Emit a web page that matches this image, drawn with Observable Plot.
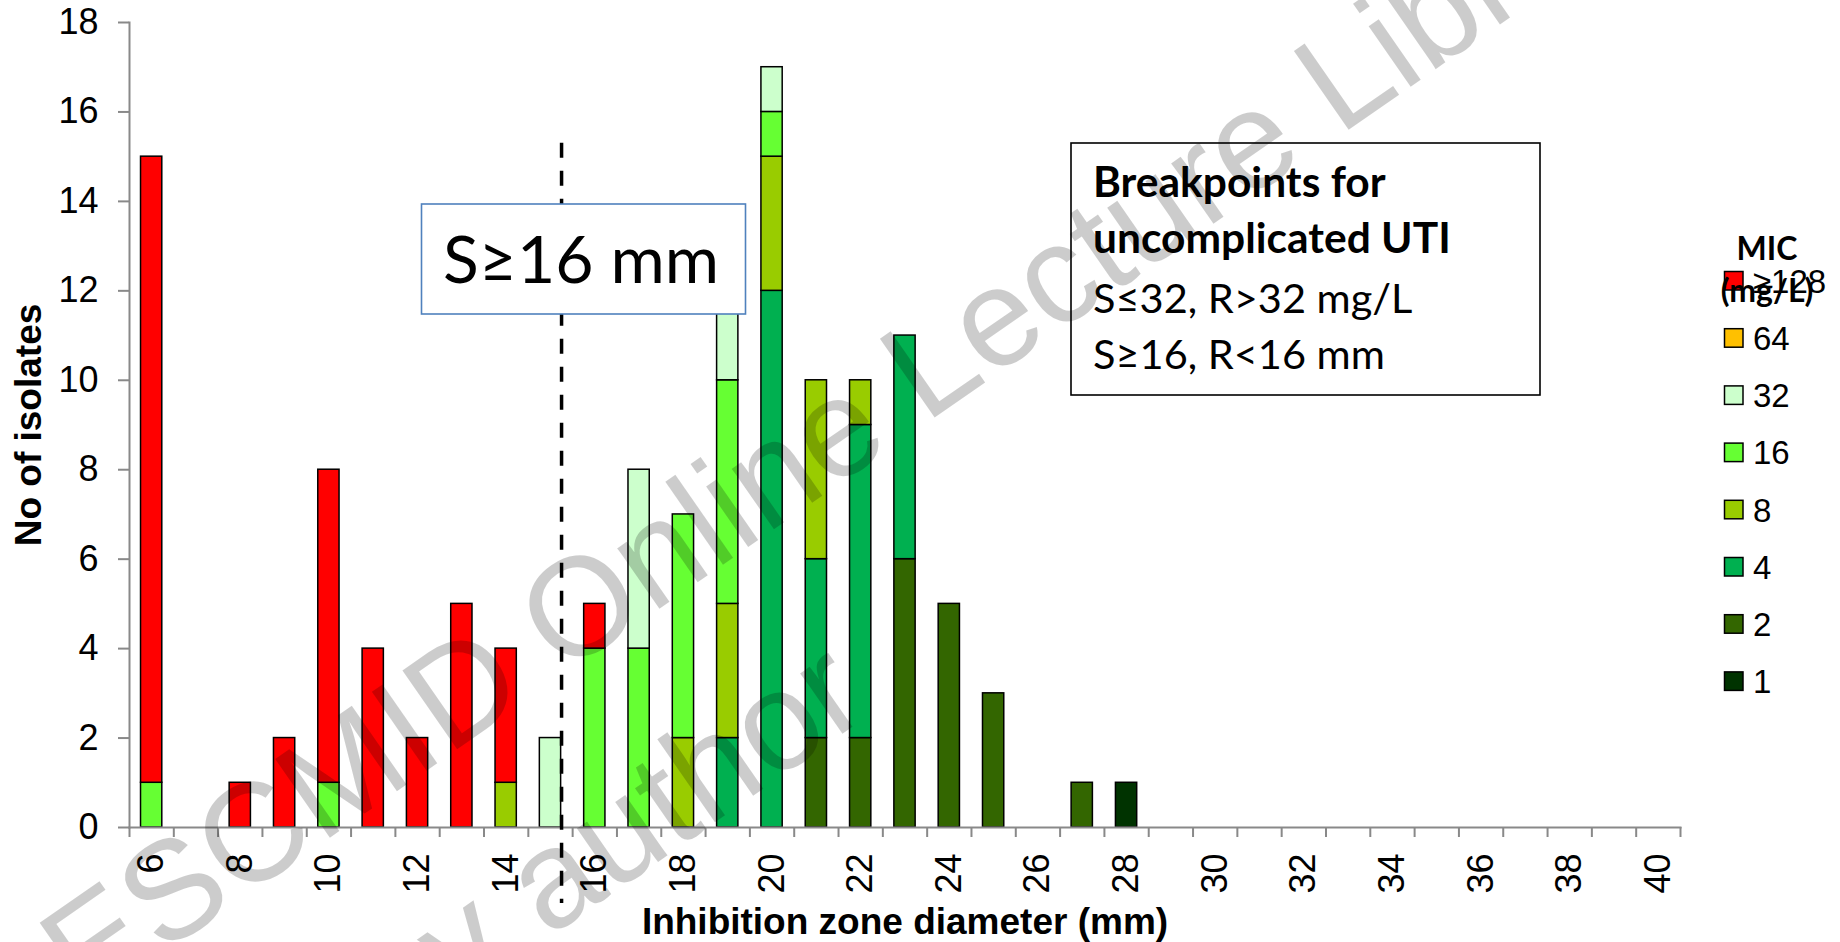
<!DOCTYPE html>
<html><head><meta charset="utf-8">
<script src="https://cdn.jsdelivr.net/npm/d3@7"></script>
<script src="https://cdn.jsdelivr.net/npm/@observablehq/plot@0.6"></script>
<style>
html,body{margin:0;padding:0;background:#fff;}
#chart{position:relative;width:1840px;height:942px;overflow:hidden;background:#fff;}
#chart svg{position:absolute;left:0;top:0;}
</style></head><body><div id="chart"></div>
<script>
// Inhibition zone diameter categories (mm)
const zones = [6,7,8,9,10,11,12,13,14,15,16,17,18,19,20,21,22,23,24,25,26,27,28,29,30,31,32,33,34,35,36,37,38,39,40];
// MIC classes (stacking order, bottom to top) and their colours
const micLevels = ["1","2","4","8","16","32","64","≥128"];
const micColors = ["#003300","#336600","#00B050","#99CC00","#66FF33","#CCFFCC","#FFC000","#FF0000"];
// Number of isolates per zone diameter, one array per MIC class
const mic1   = [0,0,0,0,0,0,0,0,0,0,0,0,0,0,0,0,0,0,0,0,0,0,1,0,0,0,0,0,0,0,0,0,0,0,0];
const mic2   = [0,0,0,0,0,0,0,0,0,0,0,0,0,0,0,2,2,6,5,3,0,1,0,0,0,0,0,0,0,0,0,0,0,0,0];
const mic4   = [0,0,0,0,0,0,0,0,0,0,0,0,0,2,12,4,7,5,0,0,0,0,0,0,0,0,0,0,0,0,0,0,0,0,0];
const mic8   = [0,0,0,0,0,0,0,0,1,0,0,0,2,3,3,4,1,0,0,0,0,0,0,0,0,0,0,0,0,0,0,0,0,0,0];
const mic16  = [1,0,0,0,1,0,0,0,0,0,4,4,5,5,1,0,0,0,0,0,0,0,0,0,0,0,0,0,0,0,0,0,0,0,0];
const mic32  = [0,0,0,0,0,0,0,0,0,2,0,4,0,2,1,0,0,0,0,0,0,0,0,0,0,0,0,0,0,0,0,0,0,0,0];
const mic64  = [0,0,0,0,0,0,0,0,0,0,0,0,0,0,0,0,0,0,0,0,0,0,0,0,0,0,0,0,0,0,0,0,0,0,0];
const mic128 = [14,0,1,2,7,4,2,5,3,0,1,0,0,0,0,0,0,0,0,0,0,0,0,0,0,0,0,0,0,0,0,0,0,0,0];
// Axis ticks and labels
const xLabels = [6,8,10,12,14,16,18,20,22,24,26,28,30,32,34,36,38,40];
const yTicks = [0,2,4,6,8,10,12,14,16,18];
const xTitle = "Inhibition zone diameter (mm)";
const yTitle = "No of isolates";
const dashedAt = 15.25;          // breakpoint line (R<16 | S≥16)
const breakpointLabel = "S≥16 mm";
const boxLines = ["Breakpoints for", "uncomplicated UTI", "S≤32, R>32 mg/L", "S≥16, R<16 mm"];
const legendTitle = ["MIC", "(mg/L)"];
const watermark = ["ESCMID Online Lecture Library", "© by author"];

const series = [mic1, mic2, mic4, mic8, mic16, mic32, mic64, mic128];
const rows = [];
series.forEach((arr, s) => arr.forEach((c, i) => {
  if (c > 0) rows.push({zone: zones[i], mic: micLevels[s], count: c});
}));
const boundaries = zones.map(z => z - 0.5).concat([zones[zones.length - 1] + 0.5]);

const plot = Plot.plot({
  width: 1840, height: 942,
  marginLeft: 129, marginRight: 160, marginTop: 22, marginBottom: 115,
  style: {fontFamily: "'Liberation Sans', Arial, sans-serif", fontSize: "36px", color: "#000", background: "transparent", overflow: "visible"},
  x: {type: "linear", domain: [boundaries[0], boundaries[boundaries.length - 1]]},
  y: {domain: [0, 18]},
  color: {domain: micLevels, range: micColors},
  marks: [
    Plot.rectY(rows, Plot.stackY({x: "zone", x1: d => d.zone - 0.24, x2: d => d.zone + 0.24, y: "count",
      fill: "mic", z: "mic", order: micLevels, stroke: "#000", strokeWidth: 1.5})),
    Plot.frame({anchor: "left", stroke: "#898989", strokeWidth: 2}),
    Plot.frame({anchor: "bottom", stroke: "#898989", strokeWidth: 2}),
    Plot.axisY({ticks: yTicks, tickSize: 11, tickPadding: 20, stroke: "#898989", strokeWidth: 2, label: null, fontSize: 36}),
    Plot.axisX({ticks: boundaries, tickSize: 10, tickFormat: () => "", stroke: "#898989", strokeWidth: 2, label: null}),
    Plot.axisX({ticks: xLabels, tickSize: 0, tickPadding: 26, tickRotate: -90, label: null, fontSize: 36}),
    Plot.ruleX([dashedAt], {y1: 15.3, y2: -1.7, stroke: "#000", strokeWidth: 3.5, strokeDasharray: "15,13", clip: false}),
    Plot.text([xTitle], {text: d => d, frameAnchor: "bottom", dy: 95, textAnchor: "middle", lineAnchor: "middle", fontWeight: "bold", fontSize: 37}),
    Plot.text([yTitle], {text: d => d, frameAnchor: "left", dx: -100, rotate: -90, textAnchor: "middle", lineAnchor: "middle", fontWeight: "bold", fontSize: 37})
  ]
});
document.getElementById("chart").appendChild(plot);

// Overlay: annotation boxes, legend, watermark
const ov = d3.select("#chart").append("svg").attr("width", 1840).attr("height", 942)
  .style("pointer-events", "none");

// S≥16 mm box
ov.append("rect").attr("x", 421.5).attr("y", 204).attr("width", 324).attr("height", 110)
  .attr("fill", "#fff").attr("stroke", "#4F81BD").attr("stroke-width", 1.6);
ov.append("text").attr("x", 443).attr("y", 283).attr("font-family", "Lato").attr("font-size", 66)
  .text(breakpointLabel);

// Breakpoints box
ov.append("rect").attr("x", 1071).attr("y", 143).attr("width", 469).attr("height", 252)
  .attr("fill", "#fff").attr("stroke", "#000").attr("stroke-width", 1.6);
const baselines = [197, 253, 313, 369];
boxLines.forEach((s, i) => ov.append("text").attr("x", 1093).attr("y", baselines[i])
  .attr("font-family", "Lato").attr("font-size", i < 2 ? 42.5 : 41.5)
  .attr("font-weight", i < 2 ? "bold" : "normal").text(s));

// Legend
const leg = ov.append("g");
const legendOrder = micLevels.map((m, i) => ({m, c: micColors[i]})).reverse();
legendOrder.forEach((d, i) => {
  const cy = 281 + 57.2 * i;
  leg.append("rect").attr("x", 1724.5).attr("y", cy - 9.5).attr("width", 18.5).attr("height", 18.5)
    .attr("fill", d.c).attr("stroke", "#000").attr("stroke-width", 1.5);
  leg.append("text").attr("x", 1753).attr("y", cy).attr("dy", "0.358em")
    .attr("font-family", "'Liberation Sans', Arial, sans-serif").attr("font-size", 33).text(d.m);
});
leg.append("text").attr("x", 1767).attr("y", 260).attr("text-anchor", "middle").attr("font-family", "Lato")
  .attr("font-weight", "bold").attr("font-size", 32).text(legendTitle[0]);
leg.append("text").attr("x", 1767).attr("y", 302).attr("text-anchor", "middle").attr("font-family", "Lato")
  .attr("font-weight", "bold").attr("font-size", 32).text(legendTitle[1]);

// Watermark
const wm = ov.append("text").attr("transform", "translate(85,1008) rotate(-34.8)")
  .attr("font-family", "'Liberation Sans', Arial, sans-serif").attr("font-size", 139.5)
  .attr("fill", "rgba(0,0,0,0.2)");
wm.append("tspan").attr("x", 0).attr("y", 0).text(watermark[0]);
wm.append("tspan").attr("x", 92).attr("y", 207).text(watermark[1]);
</script>
</body></html>
